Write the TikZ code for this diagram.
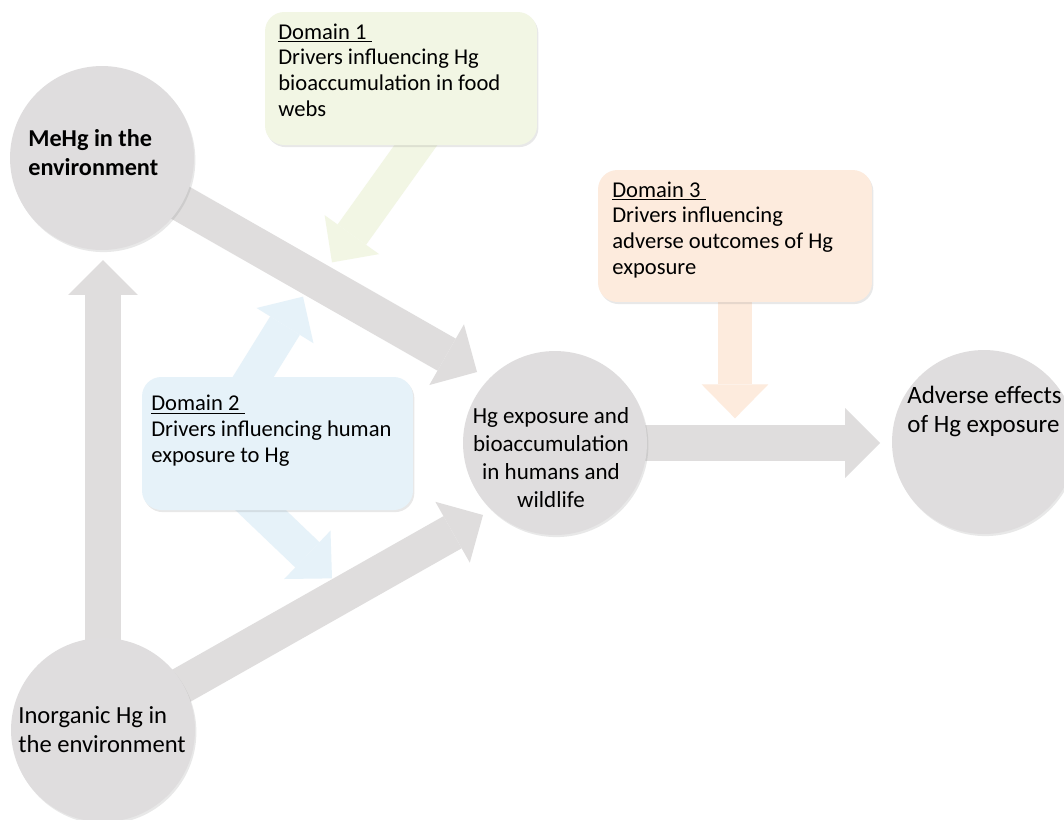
\documentclass[tikz,border=0pt]{standalone}
\usepackage{fontspec}
\setmainfont{Carlito}
\usetikzlibrary{arrows.meta,calc,shadows}
\pgfdeclarelayer{bg}
\pgfdeclarelayer{arr}
\pgfsetlayers{bg,arr,main}
\definecolor{circc}{HTML}{DFDDDE}
\definecolor{garr}{HTML}{DFDDDD}
\definecolor{dAc}{HTML}{F2F6E4}
\definecolor{dBc}{HTML}{E6F2F9}
\definecolor{dCc}{HTML}{FDEBDD}
\tikzset{
  circnode/.style={circle, fill=circc, minimum size=104.7pt, inner sep=0pt,
    drop shadow={opacity=0.18, shadow xshift=0.8pt, shadow yshift=-1.2pt}},
  dbox/.style={rectangle, rounded corners=11pt, inner sep=0pt,
    drop shadow={opacity=0.18, shadow xshift=0.8pt, shadow yshift=-1.2pt}},
  garrow/.style={draw=garr, line width=21pt,
    -{Triangle[length=19.9pt,width=39.8pt,line width=0pt]}},
  carrow/.style={line width=19.9pt,
    -{Triangle[length=19.4pt,width=38.1pt,line width=0pt]}},
  bigtext/.style={inner sep=0pt, align=left},
  domtext/.style={font=\fontsize{12.85pt}{14.6pt}\selectfont, inner sep=0pt, align=left},
}
\begin{document}
\begin{tikzpicture}[x=0.02cm,y=-0.02cm]
\begin{pgfonlayer}{bg}
  \fill[white] (0,0) rectangle (1064,819);
\end{pgfonlayer}
\useasboundingbox (0,0) rectangle (1064,819);

% circles
\node[circnode] (mehg) at (102,158) {};
\node[circnode] (hgexp) at (555,443) {};
\node[circnode] (adverse) at (984,442) {};
\node[circnode] (inorg) at (103,730) {};

% domain boxes
\node[dbox, fill=dAc, minimum width=154.8pt, minimum height=75.7pt] (d1) at (401,78.5) {};
\node[dbox, fill=dBc, minimum width=154.2pt, minimum height=75.7pt] (d2) at (277.5,443.5) {};
\node[dbox, fill=dCc, minimum width=155.9pt, minimum height=75.1pt] (d3) at (735,236) {};

% circle texts (anchor = baseline of last line)
\node[bigtext, font=\fontsize{13.8pt}{16.1pt}\selectfont\bfseries, anchor=base west] (mehgt) at (28,175) {MeHg in the\\environment};
\node[bigtext, font=\fontsize{13.1pt}{15.8pt}\selectfont, align=center, anchor=base] (hgext) at (551,507) {Hg exposure and\\bioaccumulation\\in humans and\\wildlife};
\node[bigtext, font=\fontsize{14.2pt}{16.0pt}\selectfont, anchor=base west] (advt) at (907,432) {Adverse effects\\of Hg exposure};
\node[bigtext, font=\fontsize{14.0pt}{16.3pt}\selectfont, anchor=base west] (inorgt) at (18,752) {Inorganic Hg in\\the environment};

% domain texts (anchor = baseline of last line)
\node[domtext, anchor=base west] (d1t) at (278,116) {\underline{Domain 1\ }\\Drivers influencing Hg\\bioaccumulation in food\\webs};
\node[domtext, anchor=base west] (d2t) at (151,462) {\underline{Domain 2\ }\\Drivers influencing human\\exposure to Hg};
\node[domtext, anchor=base west] (d3t) at (612,274) {\underline{Domain 3\ }\\Drivers influencing\\adverse outcomes of Hg\\exposure};

% arrow end points
\coordinate (tipA) at ($(hgexp)+(-78,-71)$);
\coordinate (tipB) at ($(hgexp)+(-72,72)$);
\coordinate (tipC) at ($(inorg)+(0,-470)$);
\coordinate (tipD) at ($(hgexp)+(325,0)$);
\coordinate (tipE) at ($(d3.south)+(0,116)$);
\coordinate (srcF) at ($(d1.south)+(29,-20)$);
\coordinate (tipF) at ($(d1.south)+(-69,117)$);
\coordinate (srcG) at ($(d2.north)+(-36.5,20)$);
\coordinate (tipG) at ($(d2.north)+(25.5,-80)$);
\coordinate (srcH) at ($(d2.south)+(-36.5,-19)$);
\coordinate (tipH) at ($(d2.south)+(54.5,68)$);

\begin{pgfonlayer}{arr}
  \draw[garrow] (mehg.center) -- (tipA);
  \draw[garrow] (inorg.center) -- (tipB);
  \draw[garrow] (inorg.center) -- (tipC);
  \draw[garrow] (hgexp.center) -- (tipD);
  \draw[carrow, draw=dCc] (d3.center) -- (tipE);
  \draw[carrow, draw=dAc] (srcF) -- (tipF);
  \draw[carrow, draw=dBc] (srcG) -- (tipG);
  \draw[carrow, draw=dBc] (srcH) -- (tipH);
\end{pgfonlayer}
\end{tikzpicture}
\end{document}
